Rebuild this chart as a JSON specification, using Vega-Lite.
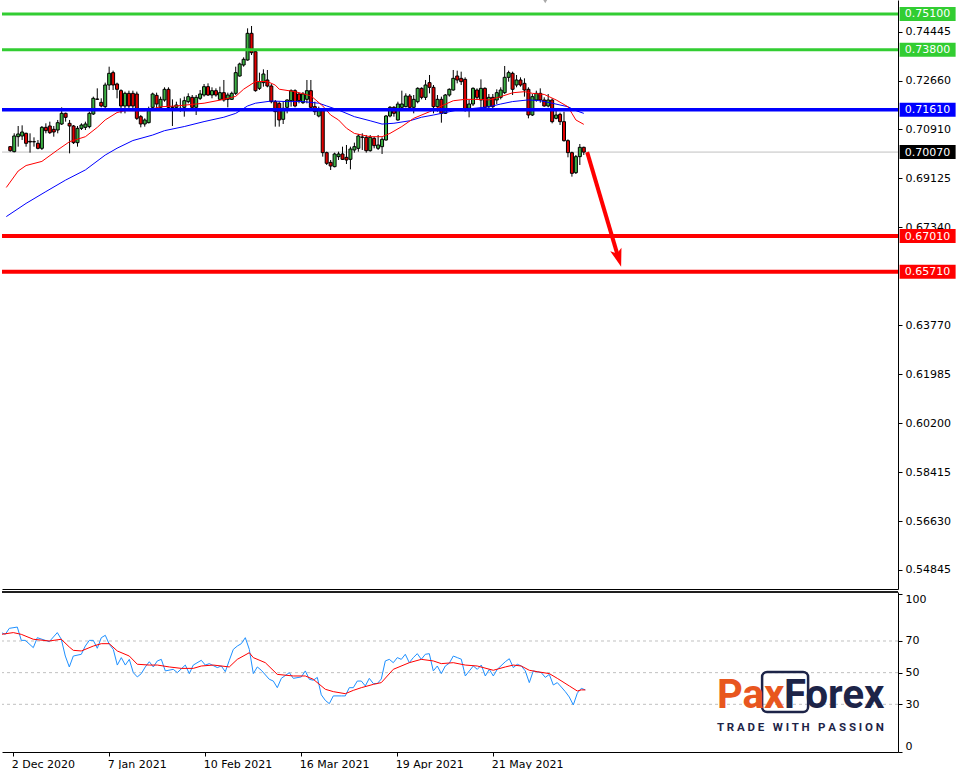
{
  "$schema": "https://vega.github.io/schema/vega-lite/v6.json",
  "padding": 0,
  "background": "white",
  "spacing": 2,
  "config": {
    "view": {"stroke": null},
    "font": "DejaVu Sans",
    "axis": {"labelFont": "DejaVu Sans", "labelFontSize": 11, "labelColor": "black", "domainColor": "black", "domainWidth": 1, "tickColor": "black", "tickSize": 4, "labelPadding": 3, "grid": false, "labelOverlap": false, "labelFlush": false}
  },
  "datasets": {
    "candles": [
      {"i":0,"o":0.70267,"h":0.70291,"l":0.70085,"c":0.70121},
      {"i":1,"o":0.70085,"h":0.70753,"l":0.70061,"c":0.70656},
      {"i":2,"o":0.70631,"h":0.7102,"l":0.70267,"c":0.70729},
      {"i":3,"o":0.70656,"h":0.71044,"l":0.7051,"c":0.70801},
      {"i":4,"o":0.70753,"h":0.70777,"l":0.70267,"c":0.70389},
      {"i":5,"o":0.70461,"h":0.70753,"l":0.70049,"c":0.70437},
      {"i":6,"o":0.70449,"h":0.70607,"l":0.70267,"c":0.70445},
      {"i":7,"o":0.70389,"h":0.7051,"l":0.7017,"c":0.70206},
      {"i":8,"o":0.70206,"h":0.7102,"l":0.70146,"c":0.70971},
      {"i":9,"o":0.70971,"h":0.71117,"l":0.70753,"c":0.7085},
      {"i":10,"o":0.7102,"h":0.71178,"l":0.70729,"c":0.70777},
      {"i":11,"o":0.70899,"h":0.7102,"l":0.70631,"c":0.70801},
      {"i":12,"o":0.70874,"h":0.71239,"l":0.70753,"c":0.71141},
      {"i":13,"o":0.71093,"h":0.717,"l":0.71056,"c":0.71481},
      {"i":14,"o":0.71481,"h":0.71506,"l":0.71178,"c":0.71336},
      {"i":15,"o":0.71117,"h":0.71239,"l":0.70024,"c":0.7102},
      {"i":16,"o":0.7102,"h":0.71056,"l":0.70364,"c":0.70413},
      {"i":17,"o":0.70413,"h":0.7102,"l":0.70267,"c":0.70935},
      {"i":18,"o":0.70935,"h":0.71117,"l":0.70874,"c":0.71056},
      {"i":19,"o":0.70971,"h":0.71178,"l":0.70874,"c":0.71093},
      {"i":20,"o":0.70996,"h":0.71542,"l":0.70935,"c":0.71481},
      {"i":21,"o":0.71457,"h":0.72089,"l":0.71421,"c":0.72028},
      {"i":22,"o":0.72004,"h":0.72392,"l":0.71967,"c":0.71991},
      {"i":23,"o":0.71882,"h":0.72028,"l":0.717,"c":0.71749},
      {"i":24,"o":0.71724,"h":0.72599,"l":0.71664,"c":0.72514},
      {"i":25,"o":0.72514,"h":0.73181,"l":0.72331,"c":0.72939},
      {"i":26,"o":0.72963,"h":0.73036,"l":0.72331,"c":0.72514},
      {"i":27,"o":0.7255,"h":0.72599,"l":0.72028,"c":0.72356},
      {"i":28,"o":0.72307,"h":0.72356,"l":0.71481,"c":0.71749},
      {"i":29,"o":0.71749,"h":0.72271,"l":0.71481,"c":0.7221},
      {"i":30,"o":0.7221,"h":0.72307,"l":0.71664,"c":0.71749},
      {"i":31,"o":0.7221,"h":0.72307,"l":0.71603,"c":0.71749},
      {"i":32,"o":0.72186,"h":0.72271,"l":0.71239,"c":0.71299},
      {"i":33,"o":0.7136,"h":0.71421,"l":0.70971,"c":0.71093},
      {"i":34,"o":0.71093,"h":0.71299,"l":0.70996,"c":0.71239},
      {"i":35,"o":0.71141,"h":0.71724,"l":0.71117,"c":0.71579},
      {"i":36,"o":0.717,"h":0.72234,"l":0.71603,"c":0.72186},
      {"i":37,"o":0.72137,"h":0.72234,"l":0.71664,"c":0.71821},
      {"i":38,"o":0.717,"h":0.72089,"l":0.71664,"c":0.71991},
      {"i":39,"o":0.71967,"h":0.72429,"l":0.71906,"c":0.72356},
      {"i":40,"o":0.72356,"h":0.72429,"l":0.71603,"c":0.717},
      {"i":41,"o":0.71712,"h":0.71991,"l":0.7102,"c":0.717},
      {"i":42,"o":0.717,"h":0.71906,"l":0.71603,"c":0.71785},
      {"i":43,"o":0.71603,"h":0.72028,"l":0.71542,"c":0.71664},
      {"i":44,"o":0.717,"h":0.72089,"l":0.7136,"c":0.71943},
      {"i":45,"o":0.71906,"h":0.7221,"l":0.71846,"c":0.72089},
      {"i":46,"o":0.72064,"h":0.72149,"l":0.71664,"c":0.717},
      {"i":47,"o":0.717,"h":0.72149,"l":0.71421,"c":0.72064},
      {"i":48,"o":0.72028,"h":0.72331,"l":0.71967,"c":0.72186},
      {"i":49,"o":0.72149,"h":0.7255,"l":0.72089,"c":0.72453},
      {"i":50,"o":0.72453,"h":0.72574,"l":0.72113,"c":0.72149},
      {"i":51,"o":0.72149,"h":0.72429,"l":0.72028,"c":0.72307},
      {"i":52,"o":0.72307,"h":0.72392,"l":0.72089,"c":0.72149},
      {"i":53,"o":0.71991,"h":0.72453,"l":0.71967,"c":0.72234},
      {"i":54,"o":0.72234,"h":0.72696,"l":0.71906,"c":0.71967},
      {"i":55,"o":0.71991,"h":0.72234,"l":0.717,"c":0.72149},
      {"i":56,"o":0.71991,"h":0.72271,"l":0.71967,"c":0.7221},
      {"i":57,"o":0.7221,"h":0.73181,"l":0.72149,"c":0.72963},
      {"i":58,"o":0.72841,"h":0.73327,"l":0.72817,"c":0.73279},
      {"i":59,"o":0.73242,"h":0.73521,"l":0.73181,"c":0.73449},
      {"i":60,"o":0.73424,"h":0.74578,"l":0.734,"c":0.74396},
      {"i":61,"o":0.74396,"h":0.74663,"l":0.73606,"c":0.73691},
      {"i":62,"o":0.73728,"h":0.73789,"l":0.72271,"c":0.72307},
      {"i":63,"o":0.72392,"h":0.72963,"l":0.72331,"c":0.72635},
      {"i":64,"o":0.72599,"h":0.73084,"l":0.72453,"c":0.72914},
      {"i":65,"o":0.72696,"h":0.7306,"l":0.72429,"c":0.72477},
      {"i":66,"o":0.72477,"h":0.7255,"l":0.71846,"c":0.71906},
      {"i":67,"o":0.71906,"h":0.71967,"l":0.70996,"c":0.71542},
      {"i":68,"o":0.71846,"h":0.71906,"l":0.70996,"c":0.71239},
      {"i":69,"o":0.71263,"h":0.71906,"l":0.71093,"c":0.71664},
      {"i":70,"o":0.717,"h":0.71991,"l":0.71481,"c":0.71967},
      {"i":71,"o":0.71943,"h":0.72356,"l":0.71724,"c":0.72307},
      {"i":72,"o":0.72307,"h":0.72356,"l":0.717,"c":0.71749},
      {"i":73,"o":0.72186,"h":0.72234,"l":0.71846,"c":0.71943},
      {"i":74,"o":0.7187,"h":0.72259,"l":0.71821,"c":0.72186},
      {"i":75,"o":0.71991,"h":0.72696,"l":0.71846,"c":0.72307},
      {"i":76,"o":0.72307,"h":0.72696,"l":0.71579,"c":0.717},
      {"i":77,"o":0.71724,"h":0.71906,"l":0.71421,"c":0.71542},
      {"i":78,"o":0.71384,"h":0.71724,"l":0.71336,"c":0.71579},
      {"i":79,"o":0.71579,"h":0.71627,"l":0.69903,"c":0.70049},
      {"i":80,"o":0.70049,"h":0.70085,"l":0.69599,"c":0.6966},
      {"i":81,"o":0.69696,"h":0.69781,"l":0.69417,"c":0.69563},
      {"i":82,"o":0.69539,"h":0.70049,"l":0.69514,"c":0.7},
      {"i":83,"o":0.69903,"h":0.70085,"l":0.69781,"c":0.7},
      {"i":84,"o":0.7,"h":0.70267,"l":0.69781,"c":0.69806},
      {"i":85,"o":0.69879,"h":0.70328,"l":0.69636,"c":0.69781},
      {"i":86,"o":0.69806,"h":0.70267,"l":0.69441,"c":0.70182},
      {"i":87,"o":0.70146,"h":0.70413,"l":0.70049,"c":0.70267},
      {"i":88,"o":0.70206,"h":0.70729,"l":0.70085,"c":0.70656},
      {"i":89,"o":0.70619,"h":0.70753,"l":0.70146,"c":0.70607},
      {"i":90,"o":0.70607,"h":0.70692,"l":0.70049,"c":0.70121},
      {"i":91,"o":0.70121,"h":0.70692,"l":0.70085,"c":0.70607},
      {"i":92,"o":0.70571,"h":0.70631,"l":0.70206,"c":0.70304},
      {"i":93,"o":0.70206,"h":0.70692,"l":0.70146,"c":0.70328},
      {"i":94,"o":0.70267,"h":0.70607,"l":0.7,"c":0.70534},
      {"i":95,"o":0.7051,"h":0.71421,"l":0.70486,"c":0.71384},
      {"i":96,"o":0.71384,"h":0.71749,"l":0.71336,"c":0.717},
      {"i":97,"o":0.717,"h":0.71749,"l":0.7136,"c":0.71481},
      {"i":98,"o":0.71239,"h":0.71906,"l":0.71214,"c":0.71821},
      {"i":99,"o":0.717,"h":0.72307,"l":0.71664,"c":0.71821},
      {"i":100,"o":0.71724,"h":0.7221,"l":0.717,"c":0.72113},
      {"i":101,"o":0.72113,"h":0.72186,"l":0.71627,"c":0.717},
      {"i":102,"o":0.717,"h":0.72149,"l":0.71481,"c":0.71991},
      {"i":103,"o":0.71906,"h":0.72429,"l":0.71846,"c":0.72392},
      {"i":104,"o":0.72392,"h":0.72429,"l":0.71991,"c":0.72064},
      {"i":105,"o":0.72064,"h":0.72696,"l":0.71967,"c":0.72514},
      {"i":106,"o":0.72599,"h":0.72878,"l":0.7221,"c":0.72429},
      {"i":107,"o":0.72429,"h":0.72514,"l":0.71481,"c":0.71724},
      {"i":108,"o":0.71724,"h":0.72149,"l":0.71542,"c":0.71991},
      {"i":109,"o":0.71991,"h":0.72089,"l":0.71141,"c":0.71481},
      {"i":110,"o":0.71481,"h":0.72186,"l":0.71457,"c":0.72149},
      {"i":111,"o":0.72149,"h":0.72392,"l":0.72089,"c":0.72356},
      {"i":112,"o":0.72331,"h":0.7306,"l":0.72307,"c":0.72756},
      {"i":113,"o":0.72841,"h":0.73036,"l":0.72574,"c":0.72696},
      {"i":114,"o":0.72756,"h":0.72999,"l":0.72514,"c":0.72635},
      {"i":115,"o":0.7272,"h":0.72793,"l":0.71542,"c":0.71603},
      {"i":116,"o":0.71664,"h":0.71967,"l":0.71336,"c":0.71821},
      {"i":117,"o":0.71821,"h":0.72429,"l":0.71749,"c":0.72392},
      {"i":118,"o":0.72331,"h":0.72392,"l":0.71967,"c":0.72064},
      {"i":119,"o":0.71967,"h":0.7272,"l":0.71664,"c":0.72392},
      {"i":120,"o":0.72392,"h":0.72429,"l":0.71603,"c":0.717},
      {"i":121,"o":0.71724,"h":0.72186,"l":0.71664,"c":0.72064},
      {"i":122,"o":0.72064,"h":0.72186,"l":0.71603,"c":0.71724},
      {"i":123,"o":0.71967,"h":0.72356,"l":0.71821,"c":0.72234},
      {"i":124,"o":0.72064,"h":0.72429,"l":0.71991,"c":0.72331},
      {"i":125,"o":0.72234,"h":0.73206,"l":0.72186,"c":0.72793},
      {"i":126,"o":0.72793,"h":0.73036,"l":0.72635,"c":0.72963},
      {"i":127,"o":0.72939,"h":0.72999,"l":0.72149,"c":0.72356},
      {"i":128,"o":0.72514,"h":0.72878,"l":0.72429,"c":0.72696},
      {"i":129,"o":0.72696,"h":0.72793,"l":0.72453,"c":0.72514},
      {"i":130,"o":0.72574,"h":0.72756,"l":0.72089,"c":0.72331},
      {"i":131,"o":0.72356,"h":0.72429,"l":0.71299,"c":0.71421},
      {"i":132,"o":0.71421,"h":0.72186,"l":0.71384,"c":0.72089},
      {"i":133,"o":0.71967,"h":0.72307,"l":0.71906,"c":0.7221},
      {"i":134,"o":0.7221,"h":0.72392,"l":0.7187,"c":0.71967},
      {"i":135,"o":0.71967,"h":0.72064,"l":0.71724,"c":0.71749},
      {"i":136,"o":0.71749,"h":0.72186,"l":0.717,"c":0.71967},
      {"i":137,"o":0.71967,"h":0.72028,"l":0.71117,"c":0.71178},
      {"i":138,"o":0.71299,"h":0.71603,"l":0.71263,"c":0.71421},
      {"i":139,"o":0.71445,"h":0.71506,"l":0.71056,"c":0.71178},
      {"i":140,"o":0.71178,"h":0.71542,"l":0.70449,"c":0.70486},
      {"i":141,"o":0.70486,"h":0.70534,"l":0.69879,"c":0.70049},
      {"i":142,"o":0.70049,"h":0.70085,"l":0.69174,"c":0.69296},
      {"i":143,"o":0.6932,"h":0.69964,"l":0.69271,"c":0.69903},
      {"i":144,"o":0.69903,"h":0.70364,"l":0.69599,"c":0.70243},
      {"i":145,"o":0.70243,"h":0.70267,"l":0.69964,"c":0.7007}
    ],
    "maFast": [
      {"i":-1,"v":0.6878},{"i":2,"v":0.6938},{"i":4,"v":0.6958},{"i":8,"v":0.6973},{"i":12,"v":0.7015},{"i":15,"v":0.7045},{"i":19,"v":0.7063},{"i":22,"v":0.7097},{"i":24,"v":0.7124},{"i":27,"v":0.7151},{"i":29,"v":0.7158},{"i":34,"v":0.7157},{"i":38,"v":0.7172},{"i":42,"v":0.7175},{"i":49,"v":0.7185},{"i":54,"v":0.7199},{"i":57,"v":0.721},{"i":59,"v":0.7236},{"i":62,"v":0.7264},{"i":65,"v":0.7264},{"i":67,"v":0.7251},{"i":68,"v":0.7236},{"i":72,"v":0.7227},{"i":76,"v":0.7212},{"i":79,"v":0.7175},{"i":81,"v":0.7142},{"i":83,"v":0.7124},{"i":85,"v":0.7094},{"i":87,"v":0.7075},{"i":91,"v":0.7063},{"i":94,"v":0.7063},{"i":96,"v":0.7075},{"i":99,"v":0.71},{"i":102,"v":0.713},{"i":106,"v":0.7154},{"i":109,"v":0.7175},{"i":112,"v":0.7194},{"i":115,"v":0.7199},{"i":118,"v":0.7199},{"i":121,"v":0.7197},{"i":124,"v":0.7209},{"i":127,"v":0.7223},{"i":130,"v":0.7227},{"i":132,"v":0.7221},{"i":135,"v":0.7217},{"i":138,"v":0.7197},{"i":141,"v":0.7172},{"i":142,"v":0.7148},{"i":143,"v":0.7124},{"i":145,"v":0.7108}
    ],
    "maSlow": [
      {"i":-1,"v":0.6772},{"i":4,"v":0.682},{"i":9,"v":0.6863},{"i":14,"v":0.6905},{"i":19,"v":0.6942},{"i":24,"v":0.6996},{"i":27,"v":0.7021},{"i":31,"v":0.7049},{"i":36,"v":0.7069},{"i":39,"v":0.7085},{"i":44,"v":0.71},{"i":49,"v":0.7118},{"i":54,"v":0.7134},{"i":57,"v":0.7148},{"i":60,"v":0.7175},{"i":62,"v":0.7185},{"i":66,"v":0.7193},{"i":70,"v":0.7191},{"i":74,"v":0.7191},{"i":78,"v":0.7185},{"i":80,"v":0.7175},{"i":83,"v":0.716},{"i":87,"v":0.7136},{"i":91,"v":0.7121},{"i":94,"v":0.7109},{"i":97,"v":0.7112},{"i":101,"v":0.7121},{"i":104,"v":0.7134},{"i":107,"v":0.7142},{"i":111,"v":0.7154},{"i":113,"v":0.716},{"i":117,"v":0.7166},{"i":121,"v":0.7172},{"i":124,"v":0.7182},{"i":127,"v":0.7191},{"i":131,"v":0.7197},{"i":134,"v":0.7194},{"i":137,"v":0.7185},{"i":141,"v":0.7172},{"i":143,"v":0.7158},{"i":145,"v":0.7148}
    ],
    "levels": [
      {"price":0.751,"label":"0.75100","kind":"resistance"},
      {"price":0.738,"label":"0.73800","kind":"resistance"},
      {"price":0.7161,"label":"0.71610","kind":"pivot"},
      {"price":0.6701,"label":"0.67010","kind":"support"},
      {"price":0.6571,"label":"0.65710","kind":"support"}
    ],
    "current": [{"price":0.7007,"label":"0.70070"}],
    "shiftMarker": [{"i":135.25,"p":0.7561}],
    "arrow": [{"i":145.85,"p":0.7007},{"i":153.775,"p":0.66207}],
    "arrowHead": [{"i":153.775,"p":0.66207}],
    "rsi": [
      {"i":-1,"v":75.3},{"i":0,"v":74.2},{"i":1,"v":78.0},{"i":3,"v":78.8},{"i":4,"v":70.4},{"i":5,"v":70.4},{"i":7,"v":65.8},{"i":8,"v":72.1},{"i":10,"v":70.4},{"i":11,"v":69.6},{"i":13,"v":75.3},{"i":14,"v":71.1},{"i":15,"v":60.5},{"i":16,"v":53.6},{"i":17,"v":60.5},{"i":19,"v":61.6},{"i":20,"v":66.8},{"i":21,"v":70.4},{"i":22,"v":70.4},{"i":23,"v":65.4},{"i":24,"v":72.1},{"i":25,"v":73.6},{"i":26,"v":67.9},{"i":27,"v":64.7},{"i":28,"v":54.8},{"i":29,"v":59.5},{"i":30,"v":54.8},{"i":31,"v":58.4},{"i":32,"v":50.0},{"i":33,"v":47.3},{"i":34,"v":49.4},{"i":35,"v":53.6},{"i":36,"v":56.9},{"i":37,"v":53.6},{"i":38,"v":57.4},{"i":39,"v":58.4},{"i":40,"v":51.1},{"i":42,"v":52.1},{"i":43,"v":50.0},{"i":45,"v":54.8},{"i":46,"v":49.4},{"i":47,"v":54.8},{"i":49,"v":57.8},{"i":50,"v":54.8},{"i":51,"v":55.7},{"i":53,"v":53.2},{"i":54,"v":54.2},{"i":55,"v":50.6},{"i":56,"v":57.8},{"i":57,"v":64.7},{"i":58,"v":66.8},{"i":59,"v":68.3},{"i":60,"v":72.1},{"i":61,"v":64.7},{"i":62,"v":49.4},{"i":63,"v":53.6},{"i":64,"v":51.5},{"i":66,"v":45.8},{"i":67,"v":44.7},{"i":68,"v":40.5},{"i":69,"v":46.4},{"i":71,"v":50.0},{"i":72,"v":46.4},{"i":74,"v":47.3},{"i":75,"v":51.1},{"i":76,"v":45.8},{"i":77,"v":45.2},{"i":78,"v":47.0},{"i":79,"v":36.0},{"i":80,"v":32.5},{"i":81,"v":30.4},{"i":82,"v":35.3},{"i":84,"v":35.3},{"i":85,"v":35.3},{"i":86,"v":40.5},{"i":87,"v":40.5},{"i":88,"v":44.7},{"i":89,"v":44.7},{"i":90,"v":41.6},{"i":91,"v":46.4},{"i":92,"v":43.1},{"i":93,"v":43.1},{"i":94,"v":46.0},{"i":95,"v":57.4},{"i":96,"v":58.4},{"i":97,"v":56.3},{"i":98,"v":59.5},{"i":99,"v":58.4},{"i":100,"v":61.6},{"i":101,"v":56.3},{"i":102,"v":59.5},{"i":103,"v":62.0},{"i":104,"v":58.4},{"i":105,"v":61.6},{"i":106,"v":62.0},{"i":107,"v":51.1},{"i":108,"v":54.2},{"i":109,"v":49.4},{"i":110,"v":54.2},{"i":111,"v":56.0},{"i":112,"v":60.5},{"i":113,"v":59.5},{"i":114,"v":58.5},{"i":115,"v":47.9},{"i":116,"v":51.1},{"i":117,"v":54.2},{"i":118,"v":52.1},{"i":119,"v":54.8},{"i":120,"v":47.9},{"i":121,"v":52.1},{"i":122,"v":47.9},{"i":123,"v":52.1},{"i":125,"v":56.9},{"i":126,"v":58.8},{"i":127,"v":53.2},{"i":128,"v":55.3},{"i":129,"v":54.2},{"i":130,"v":51.1},{"i":131,"v":43.7},{"i":132,"v":51.1},{"i":133,"v":50.5},{"i":134,"v":50.0},{"i":135,"v":47.0},{"i":136,"v":48.9},{"i":137,"v":42.2},{"i":138,"v":43.7},{"i":139,"v":40.9},{"i":140,"v":38.0},{"i":141,"v":34.6},{"i":142,"v":29.6},{"i":143,"v":37.0},{"i":144,"v":40.1},{"i":145,"v":39.1}
    ],
    "rsiMa": [
      {"i":-1,"v":74.2},{"i":2,"v":75.3},{"i":4,"v":74.2},{"i":7,"v":71.1},{"i":11,"v":70.0},{"i":14,"v":71.1},{"i":16,"v":66.2},{"i":17,"v":64.1},{"i":19,"v":63.7},{"i":22,"v":66.8},{"i":24,"v":68.3},{"i":26,"v":68.3},{"i":28,"v":63.7},{"i":31,"v":60.5},{"i":33,"v":55.3},{"i":36,"v":54.8},{"i":38,"v":54.8},{"i":41,"v":53.6},{"i":44,"v":52.7},{"i":47,"v":52.7},{"i":49,"v":54.2},{"i":52,"v":54.8},{"i":56,"v":53.6},{"i":58,"v":58.4},{"i":61,"v":62.6},{"i":62,"v":59.5},{"i":65,"v":56.3},{"i":68,"v":48.9},{"i":72,"v":47.9},{"i":75,"v":47.9},{"i":77,"v":45.8},{"i":80,"v":39.5},{"i":82,"v":38.0},{"i":85,"v":36.7},{"i":87,"v":38.8},{"i":89,"v":40.5},{"i":92,"v":42.6},{"i":94,"v":43.7},{"i":97,"v":52.1},{"i":101,"v":56.3},{"i":104,"v":58.4},{"i":107,"v":57.4},{"i":109,"v":55.7},{"i":112,"v":56.3},{"i":115,"v":54.8},{"i":118,"v":54.2},{"i":122,"v":51.5},{"i":125,"v":53.6},{"i":127,"v":54.8},{"i":129,"v":54.2},{"i":131,"v":51.5},{"i":133,"v":50.6},{"i":136,"v":49.4},{"i":138,"v":46.4},{"i":141,"v":41.6},{"i":143,"v":38.4},{"i":144,"v":39.1},{"i":145,"v":39.1}
    ],
    "rsiGrid": [{"v":30},{"v":50},{"v":70}],
    "logoPax": [{"i":177.925,"v":27.7,"t":"Pax"}],
    "logoForex": [{"i":194.675,"v":27.7,"t":"Forex"}],
    "logoTag": [{"i":177.925,"v":13.1,"t":"T R A D E \u00a0\u00a0W I T H \u00a0\u00a0P A S S I O N"}],
    "logoBox": [{"x1":189.2,"x2":200.7,"y1":25.1,"y2":50.4}]
  },
  "vconcat": [
    {
      "width": 896,
      "height": 589,
      "layer": [
        {
          "data": {"name": "current"},
          "mark": {"type": "rule", "color": "#C0C0C0", "strokeWidth": 1},
          "encoding": {
            "y": {"field": "price", "type": "quantitative", "scale": {"domain": [0.541528, 0.7561], "nice": false, "zero": false},
              "axis": {"orient": "right", "title": null, "values": [0.74445, 0.7266, 0.7091, 0.69125, 0.6734, 0.6377, 0.61985, 0.602, 0.58415, 0.5663, 0.54845], "format": ".5f"}}
          }
        },
        {
          "data": {"name": "candles"},
          "mark": {"type": "rule", "color": "black", "strokeWidth": 1},
          "encoding": {
            "x": {"field": "i", "type": "quantitative", "scale": {"domain": [-0.825, 223.175], "nice": false, "zero": false}, "axis": {"title": null, "labels": false, "ticks": false}},
            "y": {"field": "l", "type": "quantitative", "scale": {"domain": [0.541528, 0.7561], "nice": false, "zero": false},
              "axis": {"orient": "right", "title": null, "values": [0.74445, 0.7266, 0.7091, 0.69125, 0.6734, 0.6377, 0.61985, 0.602, 0.58415, 0.5663, 0.54845], "format": ".5f"}},
            "y2": {"field": "h"}
          }
        },
        {
          "data": {"name": "candles"},
          "mark": {"type": "bar", "width": 3, "stroke": "black", "strokeWidth": 1},
          "encoding": {
            "x": {"field": "i", "type": "quantitative", "scale": {"domain": [-0.825, 223.175], "nice": false, "zero": false}, "axis": {"title": null, "labels": false, "ticks": false}},
            "y": {"field": "o", "type": "quantitative", "scale": {"domain": [0.541528, 0.7561], "nice": false, "zero": false},
              "axis": {"orient": "right", "title": null, "values": [0.74445, 0.7266, 0.7091, 0.69125, 0.6734, 0.6377, 0.61985, 0.602, 0.58415, 0.5663, 0.54845], "format": ".5f"}},
            "y2": {"field": "c"},
            "color": {"condition": {"test": "datum.c >= datum.o", "value": "#3CB043"}, "value": "#E00000"}
          }
        },
        {
          "data": {"name": "maSlow"},
          "mark": {"type": "line", "color": "#0000FF", "strokeWidth": 1, "clip": true},
          "encoding": {
            "x": {"field": "i", "type": "quantitative", "scale": {"domain": [-0.825, 223.175], "nice": false, "zero": false}, "axis": {"title": null, "labels": false, "ticks": false}},
            "y": {"field": "v", "type": "quantitative", "scale": {"domain": [0.541528, 0.7561], "nice": false, "zero": false},
              "axis": {"orient": "right", "title": null, "values": [0.74445, 0.7266, 0.7091, 0.69125, 0.6734, 0.6377, 0.61985, 0.602, 0.58415, 0.5663, 0.54845], "format": ".5f"}}
          }
        },
        {
          "data": {"name": "maFast"},
          "mark": {"type": "line", "color": "#FF0000", "strokeWidth": 1, "clip": true},
          "encoding": {
            "x": {"field": "i", "type": "quantitative", "scale": {"domain": [-0.825, 223.175], "nice": false, "zero": false}, "axis": {"title": null, "labels": false, "ticks": false}},
            "y": {"field": "v", "type": "quantitative", "scale": {"domain": [0.541528, 0.7561], "nice": false, "zero": false},
              "axis": {"orient": "right", "title": null, "values": [0.74445, 0.7266, 0.7091, 0.69125, 0.6734, 0.6377, 0.61985, 0.602, 0.58415, 0.5663, 0.54845], "format": ".5f"}}
          }
        },
        {
          "data": {"name": "shiftMarker"},
          "mark": {"type": "point", "shape": "triangle-down", "size": 60, "filled": true, "color": "#A8A8A8", "opacity": 1, "clip": true},
          "encoding": {
            "x": {"field": "i", "type": "quantitative", "scale": {"domain": [-0.825, 223.175], "nice": false, "zero": false}, "axis": {"title": null, "labels": false, "ticks": false}},
            "y": {"field": "p", "type": "quantitative", "scale": {"domain": [0.541528, 0.7561], "nice": false, "zero": false},
              "axis": {"orient": "right", "title": null, "values": [0.74445, 0.7266, 0.7091, 0.69125, 0.6734, 0.6377, 0.61985, 0.602, 0.58415, 0.5663, 0.54845], "format": ".5f"}}
          }
        },
        {
          "data": {"name": "levels"},
          "mark": {"type": "rule"},
          "encoding": {
            "y": {"field": "price", "type": "quantitative", "scale": {"domain": [0.541528, 0.7561], "nice": false, "zero": false},
              "axis": {"orient": "right", "title": null, "values": [0.74445, 0.7266, 0.7091, 0.69125, 0.6734, 0.6377, 0.61985, 0.602, 0.58415, 0.5663, 0.54845], "format": ".5f"}},
            "color": {"field": "kind", "type": "nominal", "scale": {"domain": ["resistance", "pivot", "support"], "range": ["#32CD32", "#0000FF", "#FF0000"]}, "legend": null},
            "strokeWidth": {"field": "kind", "type": "nominal", "scale": {"domain": ["resistance", "pivot", "support"], "range": [3, 4, 3]}, "legend": null}
          }
        },
        {
          "data": {"name": "arrow"},
          "mark": {"type": "line", "color": "#FF0000", "strokeWidth": 4, "strokeCap": "butt"},
          "encoding": {
            "x": {"field": "i", "type": "quantitative", "scale": {"domain": [-0.825, 223.175], "nice": false, "zero": false}, "axis": {"title": null, "labels": false, "ticks": false}},
            "y": {"field": "p", "type": "quantitative", "scale": {"domain": [0.541528, 0.7561], "nice": false, "zero": false},
              "axis": {"orient": "right", "title": null, "values": [0.74445, 0.7266, 0.7091, 0.69125, 0.6734, 0.6377, 0.61985, 0.602, 0.58415, 0.5663, 0.54845], "format": ".5f"}}
          }
        },
        {
          "data": {"name": "arrowHead"},
          "mark": {"type": "point", "shape": "M0,1L-0.65,-1L0,-0.55L0.65,-1Z", "size": 324, "angle": 343, "filled": true, "color": "#FF0000", "opacity": 1},
          "encoding": {
            "x": {"field": "i", "type": "quantitative", "scale": {"domain": [-0.825, 223.175], "nice": false, "zero": false}, "axis": {"title": null, "labels": false, "ticks": false}},
            "y": {"field": "p", "type": "quantitative", "scale": {"domain": [0.541528, 0.7561], "nice": false, "zero": false},
              "axis": {"orient": "right", "title": null, "values": [0.74445, 0.7266, 0.7091, 0.69125, 0.6734, 0.6377, 0.61985, 0.602, 0.58415, 0.5663, 0.54845], "format": ".5f"}}
          }
        },
        {
          "data": {"name": "levels"},
          "mark": {"type": "tick", "orient": "horizontal", "size": 56, "thickness": 14, "opacity": 1},
          "encoding": {
            "x": {"datum": 231.925, "type": "quantitative", "scale": {"domain": [-0.825, 223.175], "nice": false, "zero": false}, "axis": {"title": null, "labels": false, "ticks": false}},
            "y": {"field": "price", "type": "quantitative", "scale": {"domain": [0.541528, 0.7561], "nice": false, "zero": false},
              "axis": {"orient": "right", "title": null, "values": [0.74445, 0.7266, 0.7091, 0.69125, 0.6734, 0.6377, 0.61985, 0.602, 0.58415, 0.5663, 0.54845], "format": ".5f"}},
            "color": {"field": "kind", "type": "nominal", "scale": {"domain": ["resistance", "pivot", "support"], "range": ["#32CD32", "#0000FF", "#FF0000"]}, "legend": null}
          }
        },
        {
          "data": {"name": "current"},
          "mark": {"type": "tick", "orient": "horizontal", "size": 56, "thickness": 14, "opacity": 1, "color": "black"},
          "encoding": {
            "x": {"datum": 231.925, "type": "quantitative", "scale": {"domain": [-0.825, 223.175], "nice": false, "zero": false}, "axis": {"title": null, "labels": false, "ticks": false}},
            "y": {"field": "price", "type": "quantitative", "scale": {"domain": [0.541528, 0.7561], "nice": false, "zero": false},
              "axis": {"orient": "right", "title": null, "values": [0.74445, 0.7266, 0.7091, 0.69125, 0.6734, 0.6377, 0.61985, 0.602, 0.58415, 0.5663, 0.54845], "format": ".5f"}}
          }
        },
        {
          "data": {"name": "levels"},
          "mark": {"type": "text", "align": "left", "baseline": "middle", "color": "white", "font": "DejaVu Sans", "fontSize": 11, "dy": 0.5},
          "encoding": {
            "x": {"datum": 226.175, "type": "quantitative", "scale": {"domain": [-0.825, 223.175], "nice": false, "zero": false}, "axis": {"title": null, "labels": false, "ticks": false}},
            "y": {"field": "price", "type": "quantitative", "scale": {"domain": [0.541528, 0.7561], "nice": false, "zero": false},
              "axis": {"orient": "right", "title": null, "values": [0.74445, 0.7266, 0.7091, 0.69125, 0.6734, 0.6377, 0.61985, 0.602, 0.58415, 0.5663, 0.54845], "format": ".5f"}},
            "text": {"field": "label"}
          }
        },
        {
          "data": {"name": "current"},
          "mark": {"type": "text", "align": "left", "baseline": "middle", "color": "white", "font": "DejaVu Sans", "fontSize": 11, "dy": 0.5},
          "encoding": {
            "x": {"datum": 226.175, "type": "quantitative", "scale": {"domain": [-0.825, 223.175], "nice": false, "zero": false}, "axis": {"title": null, "labels": false, "ticks": false}},
            "y": {"field": "price", "type": "quantitative", "scale": {"domain": [0.541528, 0.7561], "nice": false, "zero": false},
              "axis": {"orient": "right", "title": null, "values": [0.74445, 0.7266, 0.7091, 0.69125, 0.6734, 0.6377, 0.61985, 0.602, 0.58415, 0.5663, 0.54845], "format": ".5f"}},
            "text": {"field": "label"}
          }
        }
      ]
    },
    {
      "width": 896,
      "height": 160,
      "layer": [
        {
          "data": {"name": "rsiGrid"},
          "mark": {"type": "rule", "color": "#C0C0C0", "strokeWidth": 1, "strokeDash": [3, 3]},
          "encoding": {
            "y": {"field": "v", "type": "quantitative", "scale": {"domain": [-0.14, 100.96], "nice": false, "zero": false},
              "axis": {"orient": "right", "title": null, "values": [0, 30, 50, 70, 100],
                "labelBaseline": {"condition": [{"test": "datum.value == 100", "value": "top"}, {"test": "datum.value == 0", "value": "bottom"}], "value": "middle"}}}
          }
        },
        {
          "data": {"name": "rsiGrid"},
          "mark": {"type": "rule", "color": "black", "strokeWidth": 1},
          "encoding": {
            "y": {"datum": 100.96, "type": "quantitative", "scale": {"domain": [-0.14, 100.96], "nice": false, "zero": false},
              "axis": {"orient": "right", "title": null, "values": [0, 30, 50, 70, 100],
                "labelBaseline": {"condition": [{"test": "datum.value == 100", "value": "top"}, {"test": "datum.value == 0", "value": "bottom"}], "value": "middle"}}}
          }
        },
        {
          "data": {"name": "rsi"},
          "mark": {"type": "line", "color": "#1E90FF", "strokeWidth": 1, "clip": true},
          "encoding": {
            "x": {"field": "i", "type": "quantitative", "scale": {"domain": [-0.825, 223.175], "nice": false, "zero": false},
              "axis": {"title": null, "values": [2, 26, 50, 74, 98, 122],
                "labelExpr": "datum.value == 2 ? '2 Dec 2020' : datum.value == 26 ? '7 Jan 2021' : datum.value == 50 ? '10 Feb 2021' : datum.value == 74 ? '16 Mar 2021' : datum.value == 98 ? '19 Apr 2021' : '21 May 2021'",
                "labelAlign": "left", "labelPadding": 2, "labelOffset": -2}},
            "y": {"field": "v", "type": "quantitative", "scale": {"domain": [-0.14, 100.96], "nice": false, "zero": false},
              "axis": {"orient": "right", "title": null, "values": [0, 30, 50, 70, 100],
                "labelBaseline": {"condition": [{"test": "datum.value == 100", "value": "top"}, {"test": "datum.value == 0", "value": "bottom"}], "value": "middle"}}}
          }
        },
        {
          "data": {"name": "rsiMa"},
          "mark": {"type": "line", "color": "#FF0000", "strokeWidth": 1, "clip": true},
          "encoding": {
            "x": {"field": "i", "type": "quantitative", "scale": {"domain": [-0.825, 223.175], "nice": false, "zero": false},
              "axis": {"title": null, "values": [2, 26, 50, 74, 98, 122],
                "labelExpr": "datum.value == 2 ? '2 Dec 2020' : datum.value == 26 ? '7 Jan 2021' : datum.value == 50 ? '10 Feb 2021' : datum.value == 74 ? '16 Mar 2021' : datum.value == 98 ? '19 Apr 2021' : '21 May 2021'",
                "labelAlign": "left", "labelPadding": 2, "labelOffset": -2}},
            "y": {"field": "v", "type": "quantitative", "scale": {"domain": [-0.14, 100.96], "nice": false, "zero": false},
              "axis": {"orient": "right", "title": null, "values": [0, 30, 50, 70, 100],
                "labelBaseline": {"condition": [{"test": "datum.value == 100", "value": "top"}, {"test": "datum.value == 0", "value": "bottom"}], "value": "middle"}}}
          }
        },
        {
          "data": {"name": "logoBox"},
          "mark": {"type": "rect", "fill": null, "stroke": "#1D2448", "strokeWidth": 2.5, "cornerRadius": 5},
          "encoding": {
            "x": {"field": "x1", "type": "quantitative", "scale": {"domain": [-0.825, 223.175], "nice": false, "zero": false},
              "axis": {"title": null, "values": [2, 26, 50, 74, 98, 122],
                "labelExpr": "datum.value == 2 ? '2 Dec 2020' : datum.value == 26 ? '7 Jan 2021' : datum.value == 50 ? '10 Feb 2021' : datum.value == 74 ? '16 Mar 2021' : datum.value == 98 ? '19 Apr 2021' : '21 May 2021'",
                "labelAlign": "left", "labelPadding": 2, "labelOffset": -2}},
            "x2": {"field": "x2"},
            "y": {"field": "y1", "type": "quantitative", "scale": {"domain": [-0.14, 100.96], "nice": false, "zero": false},
              "axis": {"orient": "right", "title": null, "values": [0, 30, 50, 70, 100],
                "labelBaseline": {"condition": [{"test": "datum.value == 100", "value": "top"}, {"test": "datum.value == 0", "value": "bottom"}], "value": "middle"}}},
            "y2": {"field": "y2"}
          }
        },
        {
          "data": {"name": "logoPax"},
          "mark": {"type": "text", "align": "left", "baseline": "alphabetic", "color": "#E8561E", "font": "Roboto", "fontWeight": "bold", "fontSize": 40},
          "encoding": {
            "x": {"field": "i", "type": "quantitative", "scale": {"domain": [-0.825, 223.175], "nice": false, "zero": false},
              "axis": {"title": null, "values": [2, 26, 50, 74, 98, 122],
                "labelExpr": "datum.value == 2 ? '2 Dec 2020' : datum.value == 26 ? '7 Jan 2021' : datum.value == 50 ? '10 Feb 2021' : datum.value == 74 ? '16 Mar 2021' : datum.value == 98 ? '19 Apr 2021' : '21 May 2021'",
                "labelAlign": "left", "labelPadding": 2, "labelOffset": -2}},
            "y": {"field": "v", "type": "quantitative", "scale": {"domain": [-0.14, 100.96], "nice": false, "zero": false},
              "axis": {"orient": "right", "title": null, "values": [0, 30, 50, 70, 100],
                "labelBaseline": {"condition": [{"test": "datum.value == 100", "value": "top"}, {"test": "datum.value == 0", "value": "bottom"}], "value": "middle"}}},
            "text": {"field": "t"}
          }
        },
        {
          "data": {"name": "logoForex"},
          "mark": {"type": "text", "align": "left", "baseline": "alphabetic", "color": "#1D2448", "font": "Roboto", "fontWeight": "bold", "fontSize": 40},
          "encoding": {
            "x": {"field": "i", "type": "quantitative", "scale": {"domain": [-0.825, 223.175], "nice": false, "zero": false},
              "axis": {"title": null, "values": [2, 26, 50, 74, 98, 122],
                "labelExpr": "datum.value == 2 ? '2 Dec 2020' : datum.value == 26 ? '7 Jan 2021' : datum.value == 50 ? '10 Feb 2021' : datum.value == 74 ? '16 Mar 2021' : datum.value == 98 ? '19 Apr 2021' : '21 May 2021'",
                "labelAlign": "left", "labelPadding": 2, "labelOffset": -2}},
            "y": {"field": "v", "type": "quantitative", "scale": {"domain": [-0.14, 100.96], "nice": false, "zero": false},
              "axis": {"orient": "right", "title": null, "values": [0, 30, 50, 70, 100],
                "labelBaseline": {"condition": [{"test": "datum.value == 100", "value": "top"}, {"test": "datum.value == 0", "value": "bottom"}], "value": "middle"}}},
            "text": {"field": "t"}
          }
        },
        {
          "data": {"name": "logoTag"},
          "mark": {"type": "text", "align": "left", "baseline": "alphabetic", "color": "#1D2448", "font": "Roboto", "fontWeight": "bold", "fontSize": 11.5},
          "encoding": {
            "x": {"field": "i", "type": "quantitative", "scale": {"domain": [-0.825, 223.175], "nice": false, "zero": false},
              "axis": {"title": null, "values": [2, 26, 50, 74, 98, 122],
                "labelExpr": "datum.value == 2 ? '2 Dec 2020' : datum.value == 26 ? '7 Jan 2021' : datum.value == 50 ? '10 Feb 2021' : datum.value == 74 ? '16 Mar 2021' : datum.value == 98 ? '19 Apr 2021' : '21 May 2021'",
                "labelAlign": "left", "labelPadding": 2, "labelOffset": -2}},
            "y": {"field": "v", "type": "quantitative", "scale": {"domain": [-0.14, 100.96], "nice": false, "zero": false},
              "axis": {"orient": "right", "title": null, "values": [0, 30, 50, 70, 100],
                "labelBaseline": {"condition": [{"test": "datum.value == 100", "value": "top"}, {"test": "datum.value == 0", "value": "bottom"}], "value": "middle"}}},
            "text": {"field": "t"}
          }
        }
      ]
    }
  ]
}
